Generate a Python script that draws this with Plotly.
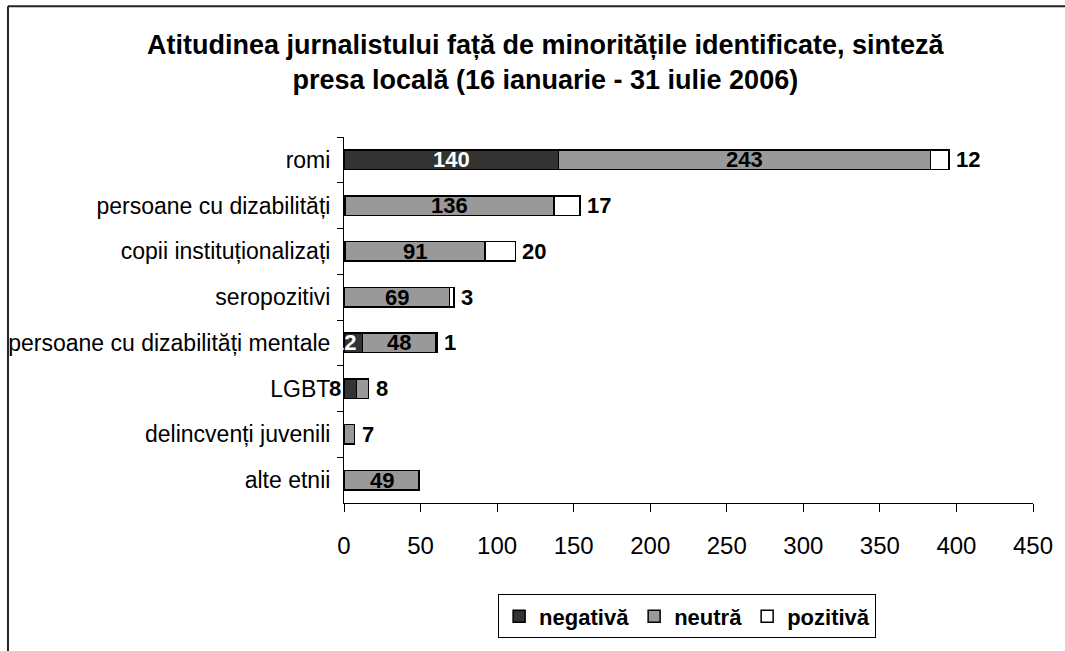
import plotly.graph_objects as go

categories = ["romi", "persoane cu dizabilități", "copii instituționalizați", "seropozitivi",
              "persoane cu dizabilități mentale", "LGBT", "delincvenți juvenili", "alte etnii"]
negativa = [140, 1, 1, 0, 12, 8, 0, 0]
neutra = [243, 136, 91, 69, 48, 8, 7, 49]
pozitiva = [12, 17, 20, 3, 1, 0, 0, 0]
series_names = ["negativă", "neutră", "pozitivă"]
x_ticks = [0, 50, 100, 150, 200, 250, 300, 350, 400, 450]

title_text = ("Atitudinea jurnalistului față de minoritățile identificate, sinteză<br>"
              "presa locală (16 ianuarie - 31 iulie 2006)")

FONT = "Liberation Sans, Arial, sans-serif"
colors = ["#333333", "#999999", "#ffffff"]
label_colors = ["#ffffff", "#000000", "#000000"]

fig = go.Figure()
all_series = [negativa, neutra, pozitiva]
for name, vals, col in zip(series_names, all_series, colors):
    fig.add_trace(go.Bar(
        y=categories, x=vals, name=f"<b>{name}</b>", orientation="h",
        marker=dict(color=col, line=dict(color="#000000", width=1.5)),
        hoverinfo="x+name",
    ))

# data labels
annotations = []
for i, cat in enumerate(categories):
    total = sum(s[i] for s in all_series)
    left = 0
    for k, vals in enumerate(all_series):
        v = vals[i]
        if v == 0:
            continue
        font = dict(family=FONT, size=22, color=label_colors[k])
        black = dict(family=FONT, size=22, color="#000000")
        if k == 0 and v < 5:
            pass  # label too small to be visible
        elif k == 0 and v < 20:
            if cat == "LGBT":
                annotations.append(dict(x=0, y=cat, text=f"<b>{v}</b>", showarrow=False,
                                        xanchor="right", xshift=-1, font=black))
            else:
                annotations.append(dict(x=0, y=cat, text=f"<b>{v}</b>", showarrow=False,
                                        xanchor="center", font=font))
        elif k == 2 or v < 20:
            annotations.append(dict(x=total, y=cat, text=f"<b>{v}</b>", showarrow=False,
                                    xanchor="left", xshift=5, font=black))
        else:
            annotations.append(dict(x=left + v / 2, y=cat, text=f"<b>{v}</b>", showarrow=False,
                                    xanchor="center", font=font))
        left += v

fig.update_layout(
    barmode="stack",
    bargap=0.57,
    width=1065, height=651,
    margin=dict(l=344, r=30, t=137, b=139),
    paper_bgcolor="#ffffff", plot_bgcolor="#ffffff",
    font=dict(family=FONT, color="#000000"),
    title=dict(text=f"<b>{title_text}</b>", x=0.512, xanchor="center",
               y=1 - 54 / 651, yanchor="middle",
               font=dict(family=FONT, size=27, color="#000000")),
    xaxis=dict(range=[0, 450], tickvals=x_ticks, ticks="outside", ticklen=8,
               tickcolor="#000", showline=True, linecolor="#000", linewidth=1,
               showgrid=False, zeroline=False, ticklabelstandoff=13,
               tickfont=dict(family=FONT, size=24, color="#000")),
    yaxis=dict(autorange="reversed", ticks="outside", ticklen=6, tickson="boundaries",
               tickcolor="#000", showline=True, linecolor="#000", linewidth=1,
               showgrid=False, ticklabelstandoff=8, automargin=False,
               tickfont=dict(family=FONT, size=23, color="#000")),
    legend=dict(orientation="h", x=0.498, y=-0.31, xanchor="center", yanchor="middle",
                bordercolor="#000", borderwidth=1, itemwidth=30,
                font=dict(family=FONT, size=22, color="#000"), traceorder="normal",
                itemclick=False),
    annotations=annotations,
    showlegend=True,
)

# outer chart frame (only top and left edges fall inside the picture)
fx0, fy_top = (7 - 344) / 691, (512 - 3) / 375
fig.add_shape(type="line", xref="paper", yref="paper",
              x0=fx0, x1=(1100 - 344) / 691, y0=fy_top, y1=fy_top,
              line=dict(color="#222222", width=2), layer="below")
fig.add_shape(type="line", xref="paper", yref="paper",
              x0=fx0, x1=fx0, y0=fy_top, y1=(512 - 700) / 375,
              line=dict(color="#222222", width=2), layer="below")

fig.write_html(
    "out.html", config={"displayModeBar": False},
    post_script=("document.body.style.margin='0';"
                 "document.body.style.overflow='hidden';"
                 "document.documentElement.style.overflow='hidden';"
                 "var d=document.getElementById('{plot_id}');"
                 "d.style.display='block';d.parentNode.style.height='651px';"
                 "window.scrollTo(0,0);"))
